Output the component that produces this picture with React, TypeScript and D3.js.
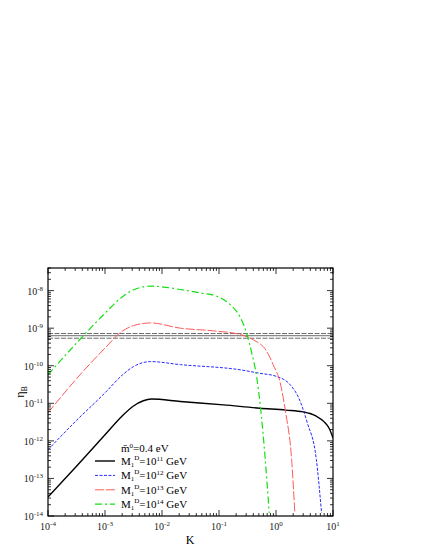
import React, { useEffect, useRef } from 'react';
import * as d3 from 'd3';

// washout parameter K (x) and baryon asymmetry eta_B (y)
const kExponents = [-4, -3, -2, -1, 0, 1];
const etaExponents = [-14, -13, -12, -11, -10, -9, -8];

const k11 = [1e-4, 3.16e-4, 1e-3, 2e-3, 3.16e-3, 4.7e-3, 6.5e-3, 2.1e-2, 0.12, 0.52, 1.5, 3, 5, 7, 8.5, 10];
const eta11 = [3.2e-14, 2.1e-13, 1.45e-12, 4.6e-12, 8.5e-12, 1.17e-11, 1.3e-11, 1.12e-11, 9.1e-12, 7.4e-12, 6.6e-12, 5.9e-12, 4.6e-12, 3.2e-12, 2.2e-12, 1.2e-12];

const k12 = [1e-4, 3.16e-4, 1e-3, 2e-3, 3.16e-3, 6.3e-3, 2.1e-2, 0.234, 0.52, 1.02, 1.78, 2.5, 3.5, 5.1, 6.3];
const eta12 = [5.8e-13, 3.5e-12, 1.9e-11, 5.6e-11, 9.5e-11, 1.29e-10, 1.07e-10, 7.8e-11, 6.3e-11, 5.2e-11, 3.1e-11, 1.4e-11, 3.2e-12, 3.2e-13, 1.2e-14];

const k13 = [1e-4, 3.16e-4, 1e-3, 2e-3, 3.16e-3, 6.3e-3, 2.1e-2, 7.9e-2, 0.234, 0.4, 0.69, 0.89, 1.17, 1.48, 1.88, 2.14];
const eta13 = [5.6e-12, 4.5e-11, 2.95e-10, 8.3e-10, 1.17e-9, 1.38e-9, 1.0e-9, 8.5e-10, 6.8e-10, 4.9e-10, 2.4e-10, 1.07e-10, 3.8e-11, 5.6e-12, 3.2e-13, 1.2e-14];

const k14 = [1e-4, 3.16e-4, 1e-3, 2e-3, 3.16e-3, 6.3e-3, 2.1e-2, 4.7e-2, 9.1e-2, 0.155, 0.234, 0.31, 0.37, 0.46, 0.525, 0.65, 0.76];
const eta14 = [5.8e-11, 4.0e-10, 2.5e-9, 6.8e-9, 1.05e-8, 1.32e-8, 1.07e-8, 8.7e-9, 7.1e-9, 4.3e-9, 2.0e-9, 6.8e-10, 2.4e-10, 4.8e-11, 1.0e-11, 3e-13, 1.2e-14];

// observed range (upper, central, lower)
const observedEta = [7.2e-10, 6.3e-10, 5.4e-10];

const massExponents = ['11', '12', '13', '14'];

const App = () => {
  const svgRef = useRef<SVGSVGElement>(null);

  useEffect(() => {
    const svg = d3.select(svgRef.current);
    svg.selectAll('*').remove();

    const left = 48, right = 333, top = 268, bottom = 516;
    const font = '"Liberation Serif", "DejaVu Serif", serif';

    const x = d3.scaleLog().domain([1e-4, 10]).range([left, right]);
    const y = d3.scaleLog().domain([1e-14, 4e-8]).range([bottom, top]);

    const g = svg.append('g');

    // observed band lines
    observedEta.forEach((v, i) => {
      g.append('line')
        .attr('x1', left).attr('x2', right)
        .attr('y1', y(v)).attr('y2', y(v))
        .attr('stroke', '#444')
        .attr('stroke-width', 0.8)
        .attr('stroke-dasharray', i === 1 ? null : '5,1.5');
    });

    const series = [
      { k: k11, eta: eta11, color: '#000', width: 1.4, dash: null },
      { k: k12, eta: eta12, color: '#2a2aff', width: 1, dash: '3,1.5' },
      { k: k13, eta: eta13, color: '#ff5a5a', width: 1, dash: '9,2' },
      { k: k14, eta: eta14, color: '#10e010', width: 1.2, dash: '7,3,2,3' },
    ];

    const line = d3.line<[number, number]>()
      .x(d => x(d[0]))
      .y(d => y(d[1]))
      .curve(d3.curveMonotoneX);

    g.append('defs').append('clipPath').attr('id', 'plotClip')
      .append('rect')
      .attr('x', left).attr('y', top)
      .attr('width', right - left).attr('height', bottom - top);

    series.forEach(s => {
      const pts = s.k.map((k, i) => [k, s.eta[i]] as [number, number]);
      g.append('path')
        .attr('clip-path', 'url(#plotClip)')
        .attr('d', line(pts))
        .attr('fill', 'none')
        .attr('stroke', s.color)
        .attr('stroke-width', s.width)
        .attr('stroke-dasharray', s.dash);
    });

    // frame
    g.append('rect')
      .attr('x', left).attr('y', top)
      .attr('width', right - left).attr('height', bottom - top)
      .attr('fill', 'none')
      .attr('stroke', '#000')
      .attr('stroke-width', 1.2);

    // ticks, inward on all four sides
    const isMajor = (v: number) => Math.abs(Math.log10(v) - Math.round(Math.log10(v))) < 1e-6;
    x.ticks().forEach(t => {
      const len = isMajor(t) ? 6 : 3;
      const px = x(t);
      g.append('line').attr('x1', px).attr('x2', px).attr('y1', bottom).attr('y2', bottom - len)
        .attr('stroke', '#000').attr('stroke-width', 0.8);
      g.append('line').attr('x1', px).attr('x2', px).attr('y1', top).attr('y2', top + len)
        .attr('stroke', '#000').attr('stroke-width', 0.8);
    });
    y.ticks().forEach(t => {
      const len = isMajor(t) ? 6 : 3;
      const py = y(t);
      g.append('line').attr('x1', left).attr('x2', left + len).attr('y1', py).attr('y2', py)
        .attr('stroke', '#000').attr('stroke-width', 0.8);
      g.append('line').attr('x1', right).attr('x2', right - len).attr('y1', py).attr('y2', py)
        .attr('stroke', '#000').attr('stroke-width', 0.8);
    });

    // tick labels
    kExponents.forEach(e => {
      const t = g.append('text')
        .attr('x', x(Math.pow(10, e)))
        .attr('y', bottom + 14)
        .attr('text-anchor', 'middle')
        .attr('font-family', font)
        .attr('font-size', 10)
        .attr('fill', '#222');
      t.append('tspan').text('10');
      t.append('tspan').attr('dy', -4).attr('font-size', 7).text(String(e));
    });
    etaExponents.forEach(e => {
      const t = g.append('text')
        .attr('x', left - 5)
        .attr('y', y(Math.pow(10, e)) + 4)
        .attr('text-anchor', 'end')
        .attr('font-family', font)
        .attr('font-size', 10)
        .attr('fill', '#222');
      t.append('tspan').text('10');
      t.append('tspan').attr('dy', -4).attr('font-size', 7).text(String(e));
    });

    // axis titles
    g.append('text')
      .attr('x', 190).attr('y', 544)
      .attr('text-anchor', 'middle')
      .attr('font-family', font)
      .attr('font-size', 12)
      .text('K');
    const yt = g.append('text')
      .attr('transform', 'translate(24,392) rotate(-90)')
      .attr('text-anchor', 'middle')
      .attr('font-family', font)
      .attr('font-size', 12);
    yt.append('tspan').text('η');
    yt.append('tspan').attr('dy', 3).attr('font-size', 8).text('B');

    // legend
    const lx = 121;
    const head = g.append('text')
      .attr('x', lx).attr('y', 452)
      .attr('font-family', font)
      .attr('font-size', 11);
    head.append('tspan').text('m\u0304');
    head.append('tspan').attr('dy', -4).attr('font-size', 7).text('0');
    head.append('tspan').attr('dy', 4).text('=0.4 eV');

    series.forEach((s, i) => {
      const cy = 461 + i * 14.4;
      g.append('line')
        .attr('x1', 95).attr('x2', 115)
        .attr('y1', cy).attr('y2', cy)
        .attr('stroke', s.color)
        .attr('stroke-width', s.width)
        .attr('stroke-dasharray', s.dash);
      const t = g.append('text')
        .attr('x', lx).attr('y', cy + 4)
        .attr('font-family', font)
        .attr('font-size', 11);
      t.append('tspan').text('M');
      t.append('tspan').attr('dy', 2).attr('font-size', 7).text('1');
      t.append('tspan').attr('dy', -7).attr('font-size', 7).text('D');
      t.append('tspan').attr('dy', 5).text('=10');
      t.append('tspan').attr('dy', -4).attr('font-size', 7).text(massExponents[i]);
      t.append('tspan').attr('dy', 4).text(' GeV');
    });
  }, []);

  return (
    <svg
      ref={svgRef}
      width={425}
      height={550}
      style={{ position: 'absolute', left: 0, top: 0, background: '#fff' }}
    />
  );
};

export default App;
